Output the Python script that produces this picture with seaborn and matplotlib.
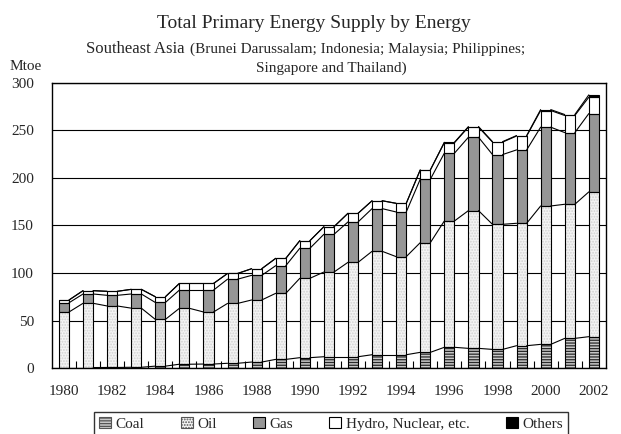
import numpy as np
import pandas as pd
import matplotlib
matplotlib.use("Agg")
import matplotlib.pyplot as plt
import seaborn as sns
from matplotlib.patches import Patch

# Mtoe
years = [str(y) for y in range(1980, 2003)]
coal = [0.5, 0.5, 0.6, 0.8, 2.0, 4.0, 4.2, 5.0, 6.3, 9.1, 10.9, 11.9,
        11.9, 14.0, 14.0, 16.5, 21.8, 20.7, 19.6, 23.5, 24.9, 31.2, 33.0]
oil = [58.5, 67.6, 64.7, 62.2, 49.2, 58.8, 54.8, 63.0, 65.3, 69.5, 83.5, 89.1,
       99.3, 108.8, 103.2, 115.4, 132.9, 144.9, 131.6, 128.8, 145.6, 141.1, 152.3]
gas = [9.7, 9.8, 11.2, 14.9, 17.8, 19.2, 23.0, 25.5, 25.9, 29.1, 31.6, 39.7,
       42.5, 44.9, 47.0, 66.7, 71.3, 77.2, 73.4, 77.2, 82.9, 75.4, 82.4]
hydro = [2.9, 3.5, 4.2, 4.9, 6.0, 7.0, 7.0, 6.0, 7.0, 7.7, 8.0, 8.0,
         9.1, 8.3, 9.1, 9.8, 11.0, 10.7, 13.1, 14.6, 17.5, 18.0, 17.2]
others = [0, 0, 0, 0, 0, 0, 0, 0, 0, 0, 0, 0,
          0, 0, 0, 0, 0.5, 0.5, 0.5, 0.5, 1.0, 1.0, 2.5]
series_names = ["Coal", "Oil", "Gas", "Hydro, Nuclear, etc.", "Others"]

df = pd.DataFrame({"year": years, "Coal": coal, "Oil": oil, "Gas": gas,
                   "Hydro, Nuclear, etc.": hydro, "Others": others})

styles = {
    "Coal": dict(color="#c8c8c8", hatch="------", edgecolor="#2a2a2a"),
    "Oil": dict(color="#f4f4f4", hatch="......", edgecolor="#d2d2d2"),
    "Gas": dict(color="#969696", hatch=None, edgecolor="#969696"),
    "Hydro, Nuclear, etc.": dict(color="white", hatch=None, edgecolor="white"),
    "Others": dict(color="black", hatch=None, edgecolor="black"),
}

sns.set_style("white")
plt.rcParams["font.family"] = ["Liberation Serif", "DejaVu Serif"]
plt.rcParams["hatch.linewidth"] = 0.9

fig = plt.figure(figsize=(6.21, 4.34), dpi=100)
ax = fig.add_axes([0.0837, 0.152, 0.892, 0.657])

w = 0.42
bottom = np.zeros(len(years))
tops = []
for name in series_names:
    st = styles[name]
    sns.barplot(data=df, x="year", y=name, bottom=bottom, color=st["color"],
                hatch=st["hatch"], edgecolor=st["edgecolor"], linewidth=0,
                width=w, saturation=1, errorbar=None, ax=ax, zorder=2)
    sns.barplot(data=df, x="year", y=name, bottom=bottom, color="black",
                fill=False, linewidth=0.8, width=w, errorbar=None, ax=ax,
                zorder=3)
    bottom = bottom + df[name].to_numpy()
    tops.append(bottom.copy())

# series lines joining the segment tops
for t in tops:
    for i in range(len(years) - 1):
        ax.plot([i + w / 2, i + 1 - w / 2], [t[i], t[i + 1]],
                color="black", lw=0.8, zorder=3)

ax.set_xlim(-0.5, len(years) - 0.5)
ax.set_ylim(0, 300)
ax.set_yticks(range(0, 301, 50))
ax.set_xticks(range(0, len(years), 2))
ax.set_xticklabels(years[::2])
ax.set_xticks(np.arange(0.5, len(years) - 1, 1), minor=True)
ax.set_xlabel("")
ax.set_ylabel("")
ax.yaxis.grid(True, color="black", lw=0.8)
ax.set_axisbelow(True)
ax.tick_params(axis="x", which="major", length=0, pad=12, labelsize=11)
ax.tick_params(axis="x", which="minor", direction="in", length=5,
               width=0.8, color="black", bottom=True)
ax.tick_params(axis="y", length=0, pad=13, labelsize=11)
for sp in ax.spines.values():
    sp.set_visible(True)
    sp.set_color("black")
    sp.set_linewidth(1.0)

fig.text(314 / 621, 1 - 23 / 434, "Total Primary Energy Supply by Energy",
         ha="center", va="center", fontsize=14)
fig.text(86 / 621, 1 - 49 / 434, "Southeast Asia", ha="left", va="center",
         fontsize=12)
fig.text(190 / 621, 1 - 49 / 434,
         "(Brunei Darussalam; Indonesia; Malaysia; Philippines;",
         ha="left", va="center", fontsize=11)
fig.text(331 / 621, 1 - 68 / 434, "Singapore and Thailand)",
         ha="center", va="center", fontsize=11)
fig.text(26 / 621, 1 - 67 / 434, "Mtoe", ha="center", va="center",
         fontsize=11)

handles = []
for name in series_names:
    st = styles[name]
    ec = "#555555" if name in ("Oil", "Coal") else "black"
    handles.append(Patch(facecolor=st["color"], hatch=st["hatch"],
                         edgecolor=ec, linewidth=0.8))
leg = fig.legend(handles, series_names, loc="upper center",
                 bbox_to_anchor=(331 / 621, 1 - 412 / 434), ncol=5,
                 borderaxespad=0, frameon=True, fancybox=False,
                 edgecolor="black", fontsize=11, handlelength=0.8,
                 handleheight=0.8, handletextpad=0.3, columnspacing=2.35,
                 borderpad=0.3)
leg.get_frame().set_linewidth(1.0)

fig.savefig("out.png", dpi=100)
